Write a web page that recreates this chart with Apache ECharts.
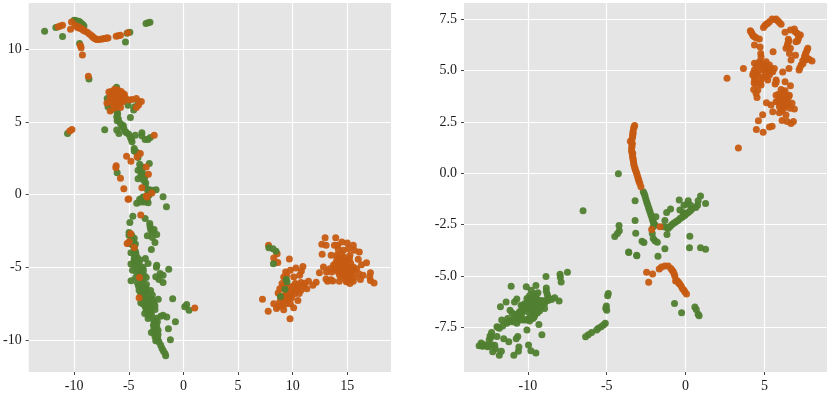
<!DOCTYPE html>
<html>
<head>
<meta charset="utf-8">
<script src="https://cdn.jsdelivr.net/npm/echarts@6/dist/echarts.min.js"></script>
<style>
html, body { margin: 0; padding: 0; background: #fff; }
#chart { width: 830px; height: 394px; }
</style>
</head>
<body>
<div id="chart"></div>
<script>
// tick positions of both panels
const leftXTicks = [-10, -5, 0, 5, 10, 15];
const leftYTicks = [-10, -5, 0, 5, 10];
const rightXTicks = [-10, -5, 0, 5];
const rightYTicks = [-7.5, -5, -2.5, 0, 2.5, 5, 7.5];

// left panel
const leftGreen = [
  [-12.7,11.24],[-11.67,11.5],[-11.06,10.87],[-10,12],[-9.76,11.95],[-9.55,11.9],[-9.3,11.75],[-9.1,11.6],[-9.9,11.98],[-9.65,11.92],[-9.45,11.85],[-9.2,11.68],[-9.5,10.4],
  [-4.9,11.17],[-5.15,11.1],[-5.3,10.5],[-3.42,11.77],[-3.24,11.82],[-3.06,11.86],[-8.64,7.95],[-10.6,4.2],[-7.2,4.46],
  [-6.12,7.38],[-6.97,6.62],[-6.82,6.28],[-6.9,6.05],[-6.58,5.86],[-5.06,6.14],[-4.55,5.82],[-4.45,6.05],[-4.15,6.41],[-4.85,5.31],
  [-6.06,5.7],[-6.02,5.55],[-6.1,5.36],[-5.95,5.2],[-6.06,5.08],[-5.76,4.9],[-5.6,4.67],[-5.5,4.75],[-5.45,4.55],[-6.1,4.44],[-5.9,4.2],[-5.3,4.32],[-5.2,4.25],[-5,4.16],[-4.85,3.93],[-4.75,3.8],[-4.7,3.63],
  [-4.4,4.09],[-3.8,4.25],[-3.8,4.05],[-3.5,3.8],[-3.24,3.8],[-3.03,3.93],[-4.5,3.17],[-4.5,3],[-4.3,2.94],[-4.1,2.83],[-4.15,2.55],
  [-4,2.09],[-3.76,1.9],[-3.12,2.14],[-3.9,1.7],[-4.15,1.68],[-3.76,1.56],[-3.85,1.35],[-3.64,1.33],[-3.9,1.25],[-3.55,1.15],[-4.15,1.1],[-3.64,0.99],[-3.45,0.8],[-3.5,0.6],[-6.06,1.5],
  [-3.1,0.34],[-3.3,0.35],[-2.8,0.3],[-2.5,0.34],[-3.33,-0.05],[-3.55,-0.2],[-3.3,-0.3],[-3.7,-0.16],[-3.5,-0.35],[-4,-0.32],[-1.86,-0.15],[-1.55,-0.84],[-4.27,-0.6],[-3.9,-0.5],[-3.6,-0.5],[-3.23,-0.56],[-3.75,-0.26],[-3.14,-0.03],
  [-4.63,-1.48],[-3.5,-1.64],[-4.9,-1.92],[-3.08,-1.98],[-3.05,-2.17],[-3,-2.4],[-2.68,-2.4],[-2.84,-2.56],[-2.44,-2.74],[-3.3,-2.83],[-2.84,-2.95],[-2.6,-3.3],[-2.93,-3.77],
  [-4.97,-2.6],[-4.97,-2.79],[-4.73,-2.79],[-4.75,-3],[-4.5,-3],[-4.55,-3.25],[-4.8,-3.13],[-4.97,-3.36],[-4.66,-3.47],[-4.39,-3.4],[-4.5,-3.65],[-4.8,-4],[-4.4,-3.89],[-4.35,-4.05],[-4.45,-4.16],[-4.2,-4.35],[-4.5,-4.39],[-3.48,-4.39],[-3.23,-4.74],
  [-4.5,-4.6],[-4.2,-4.6],[-4,-4.5],[-4.8,-4.78],[-4.45,-4.78],[-4.05,-4.74],[-4.27,-5],[-3.9,-5.08],[-3.7,-5],[-4.66,-5.2],[-3.66,-5.2],[-4.3,-5.3],[-4,-5.3],[-2.44,-4.85],[-2.47,-5],[-1.34,-5.13],[-2.13,-5.42],[-1.86,-5.54],[-2.53,-5.65],[-2.23,-5.84],[-1.86,-6.04],
  [-3.6,-5.54],[-3.9,-5.54],[-4.36,-5.7],[-4,-5.75],[-3.7,-5.7],[-3.4,-5.7],[-4.79,-5.93],[-3.75,-5.88],[-4.2,-6.07],[-3.38,-6.18],[-3.7,-6.2],[-4.1,-6.3],[-3.9,-6.34],[-3.6,-6.45],[-3.4,-6.5],[-4.05,-6.57],[-3,-6.6],[-3.75,-6.69],[-3.23,-6.8],[-3.5,-6.8],[-3.9,-6.85],[-2.84,-6.91],[-3.45,-6.98],[-3.14,-7.07],[-3.6,-7.1],[-2.3,-7.19],[-2.9,-7.2],[-0.98,-7.17],
  [-3.3,-7.3],[-2.7,-7.4],[-3.9,-7.44],[-3.45,-7.37],[-3.7,-7.5],[-3,-7.49],[-3.2,-7.5],[-2.6,-7.65],[-2.9,-7.65],[-3.5,-7.7],[-3.23,-7.72],[-3.6,-7.55],[-3,-7.83],[-3.4,-7.9],[-2.6,-7.9],[-3.1,-8],[-3.3,-8.1],[-3,-8.1],[-3.54,-8.18],[-3.23,-8.29],[-2.93,-8.22],[-3.23,-8.52],[-2.07,-8.36],[-1.86,-8.29],[-1.52,-8.41],[-0.73,-8.75],
  [0.3,-7.56],[0.12,-7.72],[0.52,-7.95],[-2.7,-8.6],[-2.5,-8.5],[-2.68,-8.75],[-2.38,-8.75],[-2.5,-8.9],[-2.74,-8.98],[-2.6,-9],[-2.44,-9.09],[-2.68,-9.2],[-2.32,-9.32],[-2.7,-9.35],[-2.5,-9.4],[-2.93,-9.48],[-2.62,-9.55],[-2.32,-9.62],[-2.6,-9.75],[-2.4,-9.85],[-2.35,-9.9],[-1.37,-9.23],[-1.19,-9.99],
  [-2.53,-10.05],[-2.23,-10.13],[-2.07,-10.36],[-1.95,-10.59],[-1.83,-10.75],[-1.68,-10.93],[-1.62,-11.09]
];
const leftOrange = [
  [-11.45,11.54],[-11.27,11.6],[-11.06,11.65],[-10.33,11.38],[-10.24,11.88],[-9.9,11.65],[-9.7,11.5],[-9.6,11.55],[-9.5,11.45],[-9.35,11.42],[-9.24,11.38],[-9.15,11.3],[-9.03,11.26],[-8.8,11.17],[-8.6,11.05],[-8.42,10.94],[-8.33,10.87],[-8.24,10.8],[-8.13,10.75],[-8.03,10.71],[-7.9,10.67],[-7.8,10.67],[-7.6,10.68],[-7.42,10.71],[-7.25,10.73],[-7.12,10.76],[-7,10.77],[-6.9,10.78],
  [-6.15,10.9],[-5.97,10.92],[-5.76,10.97],[-5.1,11.13],[-9.42,10.25],[-9.36,10.11],[-9.24,9.6],[-8.7,8.14],[-10.2,4.48],[-10.4,4.37],
  // blob near (-6, 6.7)
  [-6.82,7.05],[-6.6,7.1],[-6.3,7.25],[-6,7.2],[-5.7,7.1],[-5.4,6.9],[-5.3,6.65],[-5.5,6.4],[-5.8,6.25],[-6.1,6.1],[-6.4,6.2],[-6.6,6.4],[-6.7,6.7],[-6.4,6.9],[-6.1,6.95],[-5.8,6.85],[-5.6,6.65],[-5.85,6.5],[-6.15,6.45],[-6.4,6.6],[-6.1,6.7],[-5.9,6.65],
  [-6.5,6.75],[-6.25,7.05],[-5.95,7.05],[-5.55,6.95],[-5.45,6.7],[-5.6,6.45],[-6,6.3],[-6.3,6.35],[-6.55,6.55],[-6.25,6.8],[-5.75,6.7],
  [-6.3,5.95],[-5.75,6],[-6.7,5.75],[-7,6.3],
  [-4.7,6.55],[-4.3,6.62],[-3.85,6.4],[-4.1,6.16],[-4.3,6],[-5,6.5],
  [-5.2,2.64],[-4.8,2.3],[-4.24,2.6],[-3.94,2.83],[-3.4,1.9],[-3.2,1.4],[-6.15,1.98],[-6.18,1.84],[-5.76,1.13],[-5.45,0.4],[-3.8,0.48],[-2.88,0.12],[-3.33,-0.16],[-5.06,-0.32],[-2.67,4.09],
  [-5,-0.3],[-3.9,-1.41],[-3.38,-0.1],[-4.82,-2.69],[-4.97,-3.24],[-5.15,-3.36],[-4.5,-3.63],[-4.02,-5.7],[-4.05,-7.1],[1.04,-7.79],
  // right hand cluster
  [7.79,-3.49],[8.58,-4.06],[8.27,-4.36],[8.64,-4.66],[9.7,-4.43],[9.36,-5.32],[9.79,-5.2],[10.3,-5.05],[10.94,-4.95],[10.8,-5.25],[10.64,-5.55],[10.1,-5.67],[9.18,-5.67],[9.45,-5.55],
  [9.03,-6.12],[8.82,-6.47],[8.67,-6.77],[9.64,-6.35],[9.48,-6.7],[10.24,-6.12],[10.76,-6.05],[11.45,-5.96],[12.15,-6.03],[11.85,-6.24],[11.3,-6.47],[10.76,-6.58],[10.36,-6.47],[10.18,-6.81],[9.79,-6.93],[9.48,-7.16],[9.18,-7.27],[8.82,-7.39],[8.27,-7.5],[8.52,-7.84],[9.18,-7.91],[9.79,-7.5],[10.48,-7.29],[10.09,-7.78],[7.24,-7.2],[7.76,-8.03],[9.76,-8.53],
  [8.9,-7.1],[9.1,-7.6],[8.75,-7.7],[9.4,-7.5],[9.6,-7.2],[9.9,-6.7],[10.2,-6.6],[10.5,-6.2],[9.9,-7.1],[9.3,-6.9],[9.2,-6.3],[10,-6.3],[11,-6.3],[11.1,-6.1],[10.6,-6.8],[9.2,-7.05],
  [12.45,-5.37],[12.82,-4.98],[13.1,-5.32],[13.2,-5.96],[13.67,-5.94],[14.27,-5.96],[13.05,-5.8],[12.97,-2.96],[12.67,-3.42],[13.06,-3.49],[12.7,-4.1],[13.94,-2.96],[13.82,-3.49],[14.12,-3.49],[14.5,-3.26],[15,-3.33],[15.55,-3.49],[15.1,-3.72],[15.65,-3.83],[16.1,-3.94],
  [14.18,-3.78],[14.64,-3.83],[13.52,-4.17],[14.03,-4.17],[14.48,-4.06],[15.24,-4.17],[14.03,-4.52],[14.5,-4.47],[15,-4.52],[16,-4.45],[16.3,-4.82],[16.76,-4.68],[13.73,-4.86],[14.2,-4.82],[14.64,-4.86],[15.1,-4.86],[15.55,-4.98],[15.85,-5.1],
  [14.03,-5.2],[14.5,-5.2],[15,-5.2],[15.42,-5.32],[16.06,-5.44],[13.57,-5.32],[14.3,-5.55],[14.76,-5.55],[15.2,-5.55],[15.65,-5.67],[16.45,-5.55],[16.2,-5.83],[17.12,-5.37],[17.06,-5.67],[17.12,-5.9],[17.45,-6.08],[14.94,-6],[15.24,-6.12],[15.55,-5.96],
  [14.2,-4.35],[14.7,-4.3],[15.2,-4.4],[14.3,-4.65],[14.8,-4.7],[15.3,-4.7],[13.9,-4.75],[14.35,-5],[14.85,-5],[15.35,-5.05],[13.85,-5.1],[14.2,-5.35],[14.7,-5.35],[15.2,-5.35],[15.6,-5.2],[14.6,-5.7],[15,-5.75],[15.35,-5.8],[13.4,-5.1],[13.5,-5.85],[14.9,-5.95]
];
// drawn over the orange dots
const leftGreenTop = [
  [7.82,-3.65],[8.2,-3.72],[8.48,-3.9],[8.24,-4.75],[9.42,-5.83],[9.48,-6],[9.3,-6.51],[8.88,-7]
];

// right panel
const rightGreen = [
  [-7.49,-4.82],[-7.96,-4.92],[-7.94,-5.06],[-7.89,-5.29],[-8.85,-5.03],[-11.06,-5.5],[-10.1,-5.53],[-9.49,-5.46],[-9.79,-5.7],[-8.83,-5.59],[-8.83,-5.74],[-8.77,-5.9],[-9.36,-5.82],[-9.57,-5.87],[-9.89,-5.95],[-10.06,-6.1],[-10.7,-6.12],[-10.85,-6.27],[-11.38,-6.27],[-11.74,-6.5],
  [-8.3,-6.06],[-8.02,-6.22],[-8.5,-6.15],[-8.72,-6.19],[-8.94,-6.35],[-9.15,-6.43],[-9.36,-6.19],[-9.57,-6.15],[-9.79,-6.27],[-10,-6.19],[-10.21,-6.35],[-10.43,-6.43],[-9.89,-6.43],[-9.57,-6.43],[-9.36,-6.59],[-8.94,-6.59],[-9.68,-6.67],[-10.11,-6.59],[-10.32,-6.67],[-10.53,-6.75],[-10.74,-6.86],[-11.13,-6.67],[-11,-6.8],
  [-9.47,-6.03],[-9.26,-6.27],[-9.72,-6.03],[-9.15,-6.2],[-9.95,-6.3],[-10.2,-6.5],[-9.7,-6.5],[-9.2,-6.5],[-10,-6.75],[-10.4,-6.85],
  [-9.4,-6.3],[-9.6,-6.3],[-9.8,-6.4],[-10,-6.5],[-10.4,-6.7],[-10.55,-6.85],[-10.7,-7],[-10.85,-7.1],[-9.5,-6.55],[-9.3,-6.4],[-9.1,-6.3],[-8.9,-6.2],[-8.7,-6.05],[-9.25,-6.7],[-9.4,-6.8],[-9.55,-6.75],[-9.7,-6.85],[-9.85,-7],[-10,-7.1],[-10.15,-7.15],[-10.4,-7.05],[-9.6,-7],[-9.9,-6.15],[-9.7,-6.2],[-9.85,-6.6],[-10.05,-6.35],[-10.3,-6.5],[-9.45,-6.15],
  [-9.57,-6.91],[-9.68,-7.07],[-9.89,-7.2],[-10.32,-7.15],[-10.53,-7.15],[-10.89,-7.07],[-10.7,-7.31],[-10.96,-7.23],[-11.28,-7.07],[-11.66,-7.15],[-11.17,-7.23],[-11.34,-7.31],[-11.6,-7.44],[-11.96,-7.47],[-11.81,-7.55],[-11.9,-7.5],[-9.3,-7.36],[-10.06,-7.63],[-9.11,-7.87],
  [-12.3,-7.76],[-12.4,-7.92],[-12.35,-8],[-11.96,-7.95],[-12.45,-8.11],[-11.53,-8.06],[-11.21,-8.2],[-10.64,-7.95],[-10.74,-8.06],[-12.96,-8.27],[-13.09,-8.4],[-12.9,-8.4],[-12.87,-8.43],[-12.75,-8.35],[-12.66,-8.4],[-12.55,-8.45],[-12.45,-8.4],[-12.3,-8.35],[-12.1,-8.38],[-12.06,-8.56],[-12.23,-8.69],[-11.68,-8.67],[-11.81,-8.86],[-10.57,-8.46],[-10.6,-8.67],[-10.89,-8.86],[-9.96,-8.37],[-9.81,-8.65],[-9.49,-8.75],
  [-4.94,-5.96],[-4.9,-5.85],[-5.02,-6.46],[-5.06,-6.57],[-5,-6.67],[-5.09,-7.31],[-5.21,-7.39],[-5.36,-7.47],[-5.53,-7.55],[-5.64,-7.63],[-5.96,-7.76],[-6.17,-7.87],[-6.34,-7.96],[-3.6,-3.86],[-3.09,-4.02],
  [-4.26,-0.02],[-6.5,-1.82],[-3.2,-1.34],[-2.68,-0.9],[-2.62,-1],[-2.57,-1.11],[-2.52,-1.25],[-2.47,-1.38],[-2.42,-1.5],[-2.36,-1.63],[-2.31,-1.75],[-2.26,-1.87],[-2.2,-2],[-2.15,-2.12],[-2.1,-2.25],[-2.05,-2.36],[-2,-2.45],[-1.94,-2.52],[-1.88,-2.12],[-2.05,-2.6],[-2.11,-2.93],[-2.05,-3.18],[-1.94,-3.29],[-1.79,-3.36],
  [-3.2,-2.3],[-3.16,-2.92],[-4.22,-2.54],[-4.2,-2.8],[-4.32,-2.93],[-4.49,-3.08],[-2.76,-3.31],[-2.64,-3.37],[-3.61,-3.83],[-3.1,-3.99],[-1.75,-4.04],[-1.31,-3.68],[-1.31,-2.3],[-1.2,-1.91],[-0.95,-1.74],[-0.4,-1.3],[-0.36,-1.79],[-0.15,-1.91],[-0.1,-1.55],[0.17,-1.34],[0.1,-1.5],[0.32,-1.55],[0.65,-1.66],[0.95,-1.11],[0.8,-1.34],[0.76,-1.55],[1.27,-1.47],
  [-1.2,-2.64],[-1.41,-2.6],[-1.1,-2.69],[-1,-2.6],[-0.89,-2.52],[-0.78,-2.45],[-0.68,-2.39],[-0.57,-2.33],[-0.46,-2.28],[-0.35,-2.2],[-0.25,-2.15],[-0.15,-2.1],[-0.04,-2.04],[0.05,-1.97],[0.17,-1.91],[0.28,-1.83],[0.38,-1.76],[-1.18,-2.98],[0.27,-3.06],[0.25,-3.62],[0.95,-3.62],[1.27,-3.7],
  [-0.7,-6.34],[-0.25,-6.79],[0.59,-6.51],[0.68,-6.63],[0.8,-6.87],[0.86,-6.94]
];
const rightOrange = [
  [-3.23,2.33],[-3.26,2.27],[-3.29,2.2],[-3.33,2.04],[-3.33,1.95],[-3.35,1.87],[-3.36,1.8],[-3.38,1.71],[-3.5,1.56],[-3.38,1.47],[-3.4,1.4],[-3.4,1.3],[-3.42,1.2],[-3.42,1.07],[-3.35,0.98],[-3.37,0.88],[-3.35,0.78],[-3.33,0.7],[-3.31,0.62],[-3.29,0.5],[-3.27,0.41],[-3.23,0.3],[-3.19,0.2],[-3.15,0.1],[-3.1,0],[-3.06,-0.1],[-3.02,-0.21],[-2.98,-0.3],[-2.95,-0.39],[-2.9,-0.5],[-2.83,-0.65],
  [-1.67,-4.66],[-1.52,-4.56],[-1.31,-4.51],[-1.1,-4.51],[-0.93,-4.64],[-0.85,-4.72],[-0.78,-4.8],[-0.72,-4.9],[-0.68,-5],[-0.63,-5.24],[-0.55,-5.22],[-0.46,-5.29],[-0.42,-5.35],[-0.36,-5.41],[-0.27,-5.5],[-0.19,-5.62],[-0.1,-5.7],[-0.04,-5.78],[0.06,-5.88],[-2.47,-4.82],[-2.09,-4.9],[-2.34,-5.31],[-2.15,-2.74],[-1.62,-2.6],
  [3.35,1.23],[2.63,4.63],[3.67,5.11],[4.94,7.11],[5.03,7.2],[5.11,7.26],[5.2,7.3],[5.32,7.39],[5.49,7.52],[5.65,7.5],[5.74,7.52],[5.85,7.44],[5.95,7.35],[6.06,7.27],
  [4.11,6.95],[4.15,6.9],[4.2,6.82],[4.25,6.75],[4.3,6.69],[4.38,6.65],[4.47,6.61],[4.68,6.54],[4.37,6.25],[4.73,6.15],[4.77,5.84],[4.79,5.68],[5.55,5.93],
  [6.31,6.87],[6.65,6.98],[6.9,7.03],[6.95,6.9],[7.07,6.82],[7.15,6.75],[7.28,6.74],[7.16,6.57],[7.1,6.45],[7,6.41],[6.52,6.53],[6.55,6.45],[6.48,6.33],[6.45,6.2],[6.37,6.09],[6.65,6.09],[6.59,5.84],[6.97,5.76],[6.69,5.52],[6.56,5.11],
  [7.75,6.09],[7.7,6],[7.64,5.88],[7.6,5.8],[7.54,5.68],[7.43,5.49],[7.75,5.6],[7.85,5.55],[8.02,5.47],[7.58,5.52],[7.45,5.35],[7.33,5.28],[7.25,5.15],[7.2,5.03],
  [4.37,5.36],[4.68,5.44],[5.11,5.44],[5.32,5.28],[5.63,5.11],[4.37,5.03],[4.68,5.03],[4.26,4.79],[4.58,4.79],[4.89,5.2],[5.21,5.03],[5.53,4.95],[6.16,4.94],[5.32,4.79],[4.37,4.55],[4.79,4.55],[5.21,4.55],[4.79,4.3],[4.47,4.38],[5.74,4.55],[5.68,4.35],[6.31,4.46],[6.65,4.27],[4.32,4.09],[4.58,4.06],[4.47,3.9],[4.53,3.7],
  [4.3,4.9],[4.5,5.2],[4.5,4.9],[4.8,5.35],[5,5.3],[5.2,5.2],[5.4,5.1],[5.05,4.9],[4.9,4.7],[4.4,4.7],[4.35,4.4],[4.7,4.4],[5.4,4.95],[5.1,4.7],[4.95,5.05],[5.75,4.45],
  [6.06,4.09],[6.31,4.03],[6.2,3.95],[6.37,3.81],[6.58,3.81],[5.74,3.81],[6.06,3.81],[5.9,3.85],[6.2,3.7],[6.55,3.75],[5.95,3.65],[6.45,3.6],[5.85,3.5],[5.74,3.49],[6.15,3.45],[5.42,3.33],[5.13,3.44],[6.16,3.57],[6.06,3.33],[6.25,3.3],[6.37,3.41],[6.5,3.35],[5.95,3.25],[6.75,3.41],[6.63,3.17],[6.9,3.13],[6.23,3.17],[6.1,3.05],[5.95,2.95],[5.53,3],[6.37,2.84],[6.12,2.58],[6.44,2.52],[6.69,2.43],[6.84,2.52],[4.89,2.86],[4.62,2.56],[5.32,2.26],[5.49,2.29],[4.49,2.14],[4.92,2]
];

const orange = '#C75B12';
const green = '#508030';

function xAxis(idx, min, max, ticks) {
    return {
        type: 'value', gridIndex: idx, min: min, max: max,
        axisLine: { show: false, onZero: false },
        axisTick: { length: 3, lineStyle: { color: '#444', width: 1 }, customValues: ticks },
        axisLabel: { color: '#1a1a1a', fontFamily: '"Liberation Serif"', fontSize: 14, margin: 7, customValues: ticks, formatter: v => String(v) },
        splitLine: { show: true, lineStyle: { color: '#fff', width: 1.2 } }
    };
}
function yAxis(idx, min, max, ticks, digits) {
    return {
        type: 'value', gridIndex: idx, min: min, max: max,
        axisLine: { show: false, onZero: false },
        axisTick: { length: 3, lineStyle: { color: '#444', width: 1 }, customValues: ticks },
        axisLabel: { color: '#1a1a1a', fontFamily: '"Liberation Serif"', fontSize: 14, margin: 7, customValues: ticks, formatter: v => v.toFixed(digits) },
        splitLine: { show: true, lineStyle: { color: '#fff', width: 1.2 } }
    };
}
function dots(idx, data, color) {
    return {
        type: 'scatter', xAxisIndex: idx, yAxisIndex: idx, data: data,
        symbolSize: 7, itemStyle: { color: color, opacity: 0.95 }, silent: true
    };
}

const myChart = echarts.init(document.getElementById('chart'), null, { renderer: 'canvas' });
myChart.setOption({
    animation: false,
    backgroundColor: '#fff',
    grid: [
        { left: 28, top: 3, width: 363, height: 369, backgroundColor: '#E5E5E5', show: true, borderWidth: 0 },
        { left: 464, top: 3, width: 363, height: 369, backgroundColor: '#E5E5E5', show: true, borderWidth: 0 }
    ],
    xAxis: [xAxis(0, -14.16, 19, leftXTicks), xAxis(1, -14.05, 8.97, rightXTicks)],
    yAxis: [yAxis(0, -12.2, 13.18, leftYTicks, 0), yAxis(1, -9.68, 8.3, rightYTicks, 1)],
    series: [
        dots(0, leftGreen, green),
        dots(0, leftOrange, orange),
        dots(0, leftGreenTop, green),
        dots(1, rightGreen, green),
        dots(1, rightOrange, orange)
    ]
});
</script>
</body>
</html>
